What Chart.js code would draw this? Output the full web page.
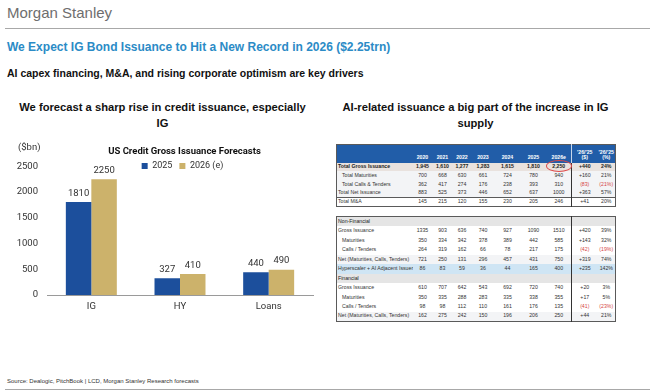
<!DOCTYPE html>
<html lang="en">
<head>
<meta charset="UTF-8">
<title>IG Bond Issuance 2026</title>
<script src="https://cdn.jsdelivr.net/npm/chart.js"></script>
<style>
  body { margin: 0; width: 650px; height: 392px; position: relative; overflow: hidden; background: #fff; font-family: "Liberation Sans", Arial, sans-serif; }
  .abs { position: absolute; white-space: nowrap; }
  #logo { left: 7px; top: 4px; font-size: 15px; line-height: 18px; color: #6e6e6e; }
  .rule { position: absolute; left: 5px; right: 0; height: 1px; background: #a8a8a8; }
  #title { left: 7px; top: 40px; font-size: 12px; line-height: 14px; font-weight: bold; color: #2b8bc6; }
  #subtitle { left: 7px; top: 66px; font-size: 10.5px; line-height: 14px; font-weight: bold; color: #111; }
  .head { position: absolute; top: 99px; font-size: 11.2px; line-height: 16px; font-weight: bold; color: #111; text-align: center; }
  #chartWrap { position: absolute; left: 0; top: 138px; width: 370px; height: 180px; }
  #source { left: 7px; top: 377px; font-size: 6px; line-height: 8px; color: #333; }

  table.fin { position: absolute; left: 336px; width: 279px; border-collapse: collapse; table-layout: fixed; font-size: 5.2px; color: #333; border: 1px solid #5a5a5a; z-index: 2; background: #fff; }
  table.fin td { padding: 0; text-align: center; vertical-align: middle; white-space: nowrap; overflow: hidden; line-height: 1; }
  table.fin td.lbl { text-align: left; padding-left: 1px; }
  table.fin td.ind { padding-left: 5px; }
  table.fin td.div { border-right: 1px solid #333; }
  table.fin tr.hdr td { background: #215da8; color: #fff; font-weight: bold; vertical-align: bottom; padding-bottom: 2px; }
  table.fin tr.hdr td.div { border-right: 1px solid #c8d6ea; }
  table.fin tr.bold td { font-weight: bold; background: #e9e2de; color: #222; }
  table.fin tr.shade td { background: #f3f4f6; }
  table.fin tr.sep td { border-top: 1px solid #5a5a5a; }
  table.fin tr.sect td { background: #e5e5e5; color: #222; }
  table.fin tr.blue td { background: #cfe5f4; }
  table.fin td.neg { color: #d64545; }
  #circle { position: absolute; left: 546px; top: 160px; width: 24px; height: 10px; border: 1.2px solid #de4a4a; border-radius: 50%; z-index: 3; }
</style>
</head>
<body>
  <div id="logo" class="abs">Morgan Stanley</div>
  <div class="rule" style="top:28px"></div>
  <div id="title" class="abs">We Expect IG Bond Issuance to Hit a New Record in 2026 ($2.25trn)</div>
  <div id="subtitle" class="abs">AI capex financing, M&amp;A, and rising corporate optimism are key drivers</div>

  <div class="head" style="left:10px; width:305px;">We forecast a sharp rise in credit issuance, especially<br>IG</div>
  <div class="head" style="left:336px; width:279px;">AI-related issuance a big part of the increase in IG<br>supply</div>

  <div id="chartWrap"><canvas id="issuanceChart" width="370" height="180"></canvas></div>

  <table class="fin" id="topTable" style="top:144px"></table>
  <table class="fin" id="sectorTable" style="top:216px"></table>
  <div id="circle"></div>

  <div id="source" class="abs">Source: Dealogic, PitchBook | LCD, Morgan Stanley Research forecasts</div>
  <div class="rule" style="top:389px"></div>

<script>
  // chart data ($bn)
  const categories = ['IG', 'HY', 'Loans'];
  const issuance2025 = [1810, 327, 440];
  const issuance2026e = [2250, 410, 490];
  const seriesNames = ['2025', '2026 (e)'];
  const yTickValues = [0, 500, 1000, 1500, 2000, 2500];

  // table data
  const tableYears = ['2020', '2021', '2022', '2023', '2024', '2025', '2026e'];
  const changeHeads = ["'26/'25<br>($)", "'26/'25<br>(%)"];
  const totalGrossIssuance = ['1,945', '1,610', '1,277', '1,283', '1,615', '1,810', '2,250', '+440', '24%'];
  const totalMaturities = ['700', '668', '630', '661', '724', '780', '940', '+160', '21%'];
  const totalCallsTenders = ['362', '417', '274', '176', '238', '393', '310', '(83)', '(21%)'];
  const totalNetIssuance = ['883', '525', '373', '446', '652', '637', '1000', '+363', '57%'];
  const totalMA = ['145', '215', '120', '155', '230', '205', '246', '+41', '20%'];
  const nonFinGross = ['1335', '903', '636', '740', '927', '1090', '1510', '+420', '39%'];
  const nonFinMaturities = ['350', '334', '342', '378', '389', '442', '585', '+143', '32%'];
  const nonFinCalls = ['264', '319', '162', '66', '78', '217', '175', '(42)', '(19%)'];
  const nonFinNet = ['721', '250', '131', '296', '457', '431', '750', '+319', '74%'];
  const hyperscalerAI = ['86', '83', '59', '36', '44', '165', '400', '+235', '142%'];
  const finGross = ['610', '707', '642', '543', '692', '720', '740', '+20', '3%'];
  const finMaturities = ['350', '335', '288', '283', '335', '338', '355', '+17', '5%'];
  const finCalls = ['98', '98', '112', '110', '161', '176', '135', '(41)', '(23%)'];
  const finNet = ['162', '275', '242', '150', '196', '206', '250', '+44', '21%'];

  // ---- table ----
  const colWidths = [76, 20, 20, 19, 23, 26, 26, 25, 26, 18];

  function colgroup() {
    return '<colgroup>' + colWidths.map(w => '<col style="width:' + w + 'px">').join('') + '</colgroup>';
  }

  function dataRow(label, vals, rowCls, lblCls, h) {
    let html = '<tr class="' + rowCls + '" style="height:' + h + 'px"><td class="lbl ' + lblCls + '">' + label + '</td>';
    vals.forEach((v, i) => {
      const cls = [];
      if (i === 6) cls.push('div');
      if (v.startsWith('(')) cls.push('neg');
      html += '<td class="' + cls.join(' ') + '">' + v + '</td>';
    });
    return html + '</tr>';
  }

  function sectRow(label, h) {
    return '<tr class="sect" style="height:' + h + 'px"><td class="lbl" colspan="8" style="border-right:1px solid #333">' +
      label + '</td><td></td><td></td></tr>';
  }

  let topHtml = colgroup() + '<tr class="hdr" style="height:18px"><td></td>';
  tableYears.forEach((y, i) => { topHtml += '<td' + (i === 6 ? ' class="div"' : '') + '>' + y + '</td>'; });
  changeHeads.forEach(c => { topHtml += '<td>' + c + '</td>'; });
  topHtml += '</tr>';
  topHtml += dataRow('Total Gross Issuance', totalGrossIssuance, 'bold', '', 8.8);
  topHtml += dataRow('Total Maturities', totalMaturities, 'shade', 'ind', 8.8);
  topHtml += dataRow('Total Calls &amp; Tenders', totalCallsTenders, 'shade', 'ind', 8.8);
  topHtml += dataRow('Total Net Issuance', totalNetIssuance, 'shade', '', 8.8);
  topHtml += dataRow('Total M&amp;A', totalMA, 'sep', '', 8.8);
  document.getElementById('topTable').innerHTML = topHtml;

  const rh = 9.5;
  let secHtml = colgroup();
  secHtml += sectRow('Non-Financial', rh);
  secHtml += dataRow('Gross Issuance', nonFinGross, '', '', rh);
  secHtml += dataRow('Maturities', nonFinMaturities, '', 'ind', rh);
  secHtml += dataRow('Calls / Tenders', nonFinCalls, '', 'ind', rh);
  secHtml += dataRow('Net (Maturities, Calls, Tenders)', nonFinNet, 'shade', '', rh);
  secHtml += dataRow('Hyperscaler + AI Adjacent Issuer', hyperscalerAI, 'blue', '', rh);
  secHtml += sectRow('Financial', rh);
  secHtml += dataRow('Gross Issuance', finGross, '', '', rh);
  secHtml += dataRow('Maturities', finMaturities, '', 'ind', rh);
  secHtml += dataRow('Calls / Tenders', finCalls, '', 'ind', rh);
  secHtml += dataRow('Net (Maturities, Calls, Tenders)', finNet, 'shade', '', rh);
  document.getElementById('sectorTable').innerHTML = secHtml;

  // ---- chart ----
  const chartFont = "Roboto, 'Liberation Sans', sans-serif";
  Chart.defaults.font.family = chartFont;
  Chart.defaults.color = '#333';

  // legend sits level with the top of the plot, so it must not take layout space;
  // title and legend are centred a little right of the canvas centre
  const legendInside = {
    id: 'legendInside',
    afterInit(chart) {
      const lg = chart.legend;
      const fit = lg.fit.bind(lg);
      lg.fit = function () { fit(); lg.height = 0; };
    },
    afterLayout(chart) {
      const lg = chart.legend;
      lg.top = chart.chartArea.top - 12;
      lg.bottom = lg.top + 30;
      lg.left += 26;
      lg.right += 26;
      const t = chart.titleBlock;
      t.left += 28;
      t.right += 28;
    }
  };

  const valueLabels = {
    id: 'valueLabels',
    afterDatasetsDraw(chart) {
      const ctx = chart.ctx;
      ctx.save();
      ctx.font = '9.5px ' + chartFont;
      ctx.fillStyle = '#333';
      ctx.textAlign = 'center';
      ctx.textBaseline = 'bottom';
      chart.data.datasets.forEach((ds, i) => {
        chart.getDatasetMeta(i).data.forEach((bar, j) => {
          ctx.fillText(ds.data[j], bar.x, bar.y - 4);
        });
      });
      ctx.textAlign = 'left';
      ctx.textBaseline = 'middle';
      ctx.fillText('($bn)', 18, 10);
      ctx.restore();
    }
  };

  new Chart(document.getElementById('issuanceChart'), {
    type: 'bar',
    data: {
      labels: categories,
      datasets: [
        { label: seriesNames[0], data: issuance2025, backgroundColor: '#1c4f9c' },
        { label: seriesNames[1], data: issuance2026e, backgroundColor: '#ccb26b' }
      ]
    },
    options: {
      responsive: false,
      animation: false,
      datasets: { bar: { categoryPercentage: 0.575, barPercentage: 1.0 } },
      layout: { padding: { left: 0, right: 57, top: 0, bottom: 0 } },
      plugins: {
        title: {
          display: true,
          text: 'US Credit Gross Issuance Forecasts',
          color: '#111',
          font: { size: 9.5, weight: 'bold' },
          padding: { top: 8, bottom: 9 }
        },
        legend: {
          position: 'top',
          labels: { boxWidth: 6, boxHeight: 6, padding: 7, font: { size: 9 }, color: '#333' }
        },
        tooltip: { enabled: false }
      },
      scales: {
        x: {
          grid: { display: false, drawTicks: false },
          border: { display: true, color: '#9a9a9a', width: 1 },
          ticks: { padding: 6, font: { size: 9.5 }, color: '#333' },
          afterFit: s => { s.height = 23; }
        },
        y: {
          min: 0,
          max: 2500,
          grid: { display: false, drawTicks: false },
          border: { display: false },
          ticks: { padding: 9, font: { size: 9.5 }, color: '#333', callback: v => String(v) },
          afterBuildTicks: s => { s.ticks = yTickValues.map(v => ({ value: v })); },
          afterFit: s => { s.width = 47; }
        }
      }
    },
    plugins: [legendInside, valueLabels]
  });
</script>
</body>
</html>
